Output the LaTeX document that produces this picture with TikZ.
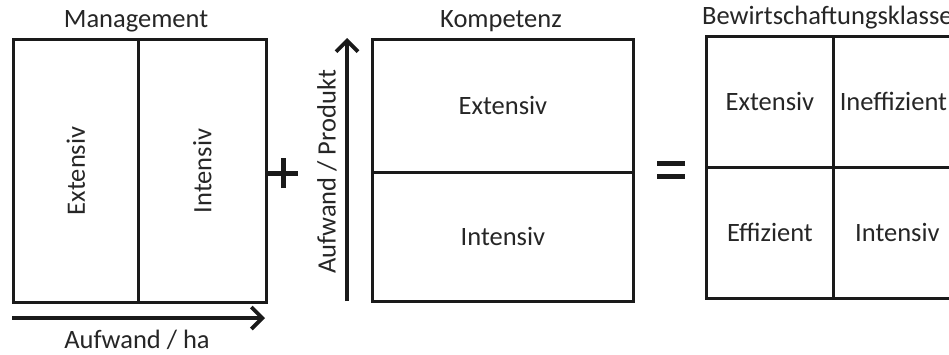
\documentclass[tikz,border=0pt]{standalone}
\usepackage{fontspec}
\setmainfont{Carlito}
\usetikzlibrary{arrows.meta}
\definecolor{ln}{HTML}{1A1A1A}
\definecolor{tx}{HTML}{262626}
\begin{document}
\begin{tikzpicture}[x=1pt,y=-1pt,
  cell/.style={draw=ln,line width=2.8pt,minimum width=#1,inner sep=0pt,text=tx,font=\fontsize{26.5}{30}\selectfont},
  lbl/.style={text=tx,font=\fontsize{26.5}{30}\selectfont,inner sep=0pt},
  axis/.style={draw=ln,line width=4.4pt,-{Straight Barb[length=11pt,width=22pt,line width=3.8pt]}},
  sign/.style={draw=ln,line width=5pt}]
\useasboundingbox (0,0) rectangle (949,354);
% Management box
\node[cell=125pt,minimum height=263pt,anchor=north west] (m1) at (12,38) {\rotatebox{90}{Extensiv}};
\node[cell=128pt,minimum height=263pt,anchor=north west] (m2) at (137,38) {\rotatebox{90}{Intensiv}};
\node[lbl] (mt) at (136,21) {Management};
\coordinate (ha0) at (12,318);
\coordinate (ha1) at (265,318);
\draw[axis] (ha0) -- (ha1);
\node[lbl] (hat) at (137,340) {Aufwand / ha};
% plus
\coordinate (pc) at (283,173);
\draw[sign] ([xshift=-15pt]pc) -- ([xshift=15pt]pc);
\draw[sign] ([yshift=-15pt]pc) -- ([yshift=15pt]pc);
% vertical axis
\coordinate (pp0) at (347,301);
\coordinate (pp1) at (347,38);
\draw[axis] (pp0) -- (pp1);
\node[lbl,rotate=90] (ppt) at (327,172) {Aufwand / Produkt};
% Kompetenz box
\node[cell=261pt,minimum height=133pt,anchor=north west] (k1) at (371,38) {Extensiv};
\node[cell=261pt,minimum height=129pt,anchor=north west] (k2) at (371,171) {Intensiv};
\node[lbl] (kt) at (501,21) {Kompetenz};
% equals
\coordinate (ec) at (671,170);
\draw[sign,line width=4.6pt] ([xshift=-14pt,yshift=-6.5pt]ec) -- ([xshift=14pt,yshift=-6.5pt]ec);
\draw[sign,line width=4.6pt] ([xshift=-14pt,yshift=6.5pt]ec) -- ([xshift=14pt,yshift=6.5pt]ec);
% Bewirtschaftungsklassen box
\node[cell=127pt,minimum height=131pt,anchor=north west] (b1) at (705,35) {Extensiv};
\node[cell=128pt,minimum height=131pt,anchor=north west] (b2) at (832,35) {\hspace*{-8pt}Ineffizient};
\node[cell=127pt,minimum height=131pt,anchor=north west] (b3) at (705,166) {Effizient};
\node[cell=128pt,minimum height=131pt,anchor=north west] (b4) at (832,166) {Intensiv};
\node[lbl,anchor=west] (bt) at (702,18) {Bewirtschaftungsklassen};
\end{tikzpicture}
\end{document}
